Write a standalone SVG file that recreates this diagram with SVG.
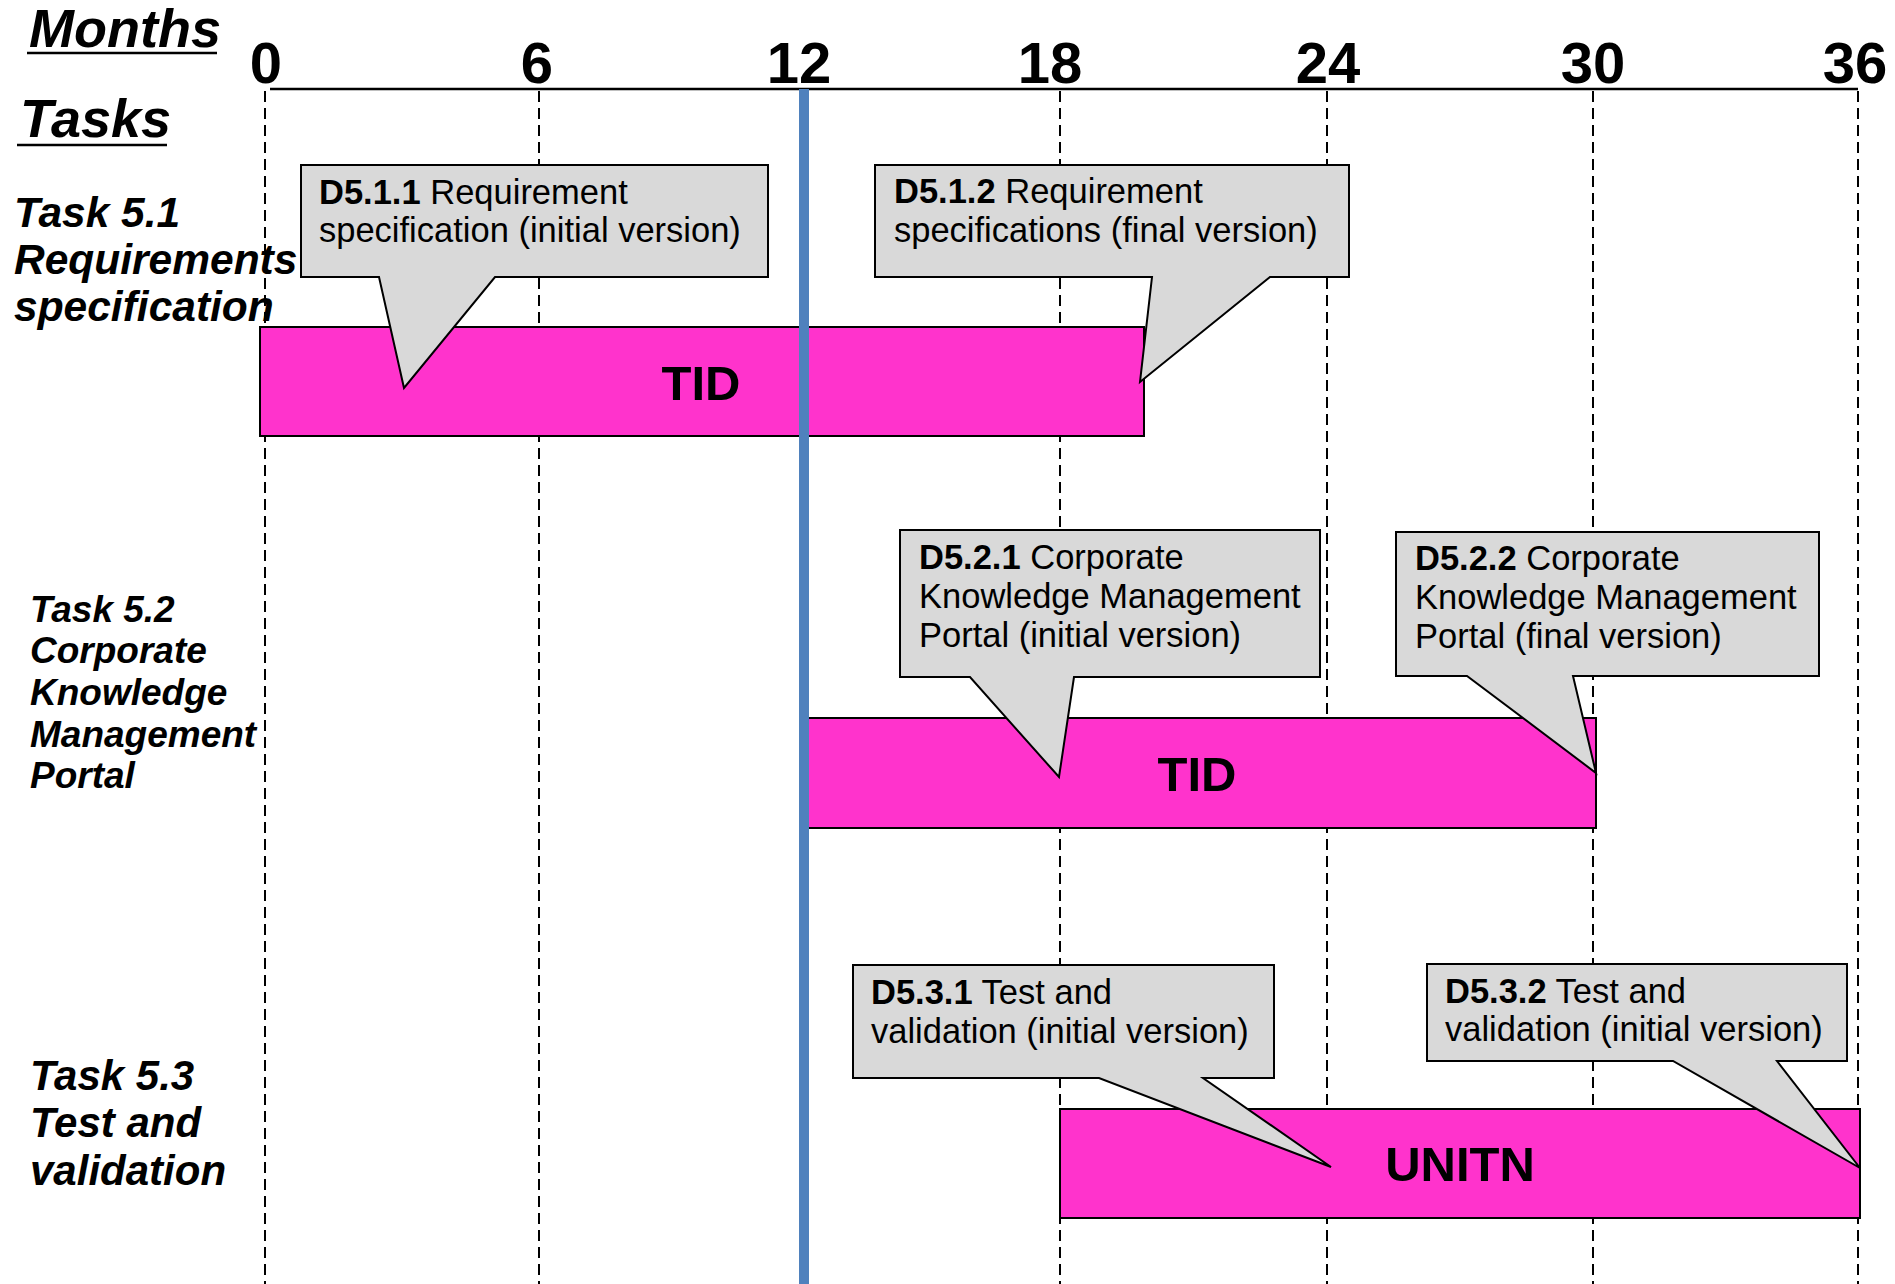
<svg xmlns="http://www.w3.org/2000/svg" width="1895" height="1284" viewBox="0 0 1895 1284">
<style>
.grid{stroke:#000;stroke-width:2;stroke-dasharray:11 6;fill:none}
.axis{stroke:#000;stroke-width:2.5;fill:none}
.num{font-family:"Liberation Sans",Arial,sans-serif;font-weight:bold;font-size:58px;fill:#000;text-anchor:middle}
.head{font-family:"Liberation Sans",Arial,sans-serif;font-weight:bold;font-style:italic;font-size:54px;fill:#000}
.task{font-family:"Liberation Sans",Arial,sans-serif;font-weight:bold;font-style:italic;fill:#000}
.bar{fill:#ff33cc;stroke:#000;stroke-width:2}
.barlbl{font-family:"Liberation Sans",Arial,sans-serif;font-weight:bold;font-size:49px;fill:#000;text-anchor:middle}
.call{fill:#d9d9d9;stroke:#000;stroke-width:2;stroke-linejoin:miter}
.ctext{font-family:"Liberation Sans",Arial,sans-serif;font-size:34.5px;fill:#000}
.b{font-weight:bold}
</style>
<rect width="1895" height="1284" fill="#fff"/>

<g id="grid">
<line class="grid" x1="265" y1="91" x2="265" y2="1284"/>
<line class="grid" x1="539" y1="91" x2="539" y2="1284"/>
<line class="grid" x1="804" y1="91" x2="804" y2="1284"/>
<line class="grid" x1="1060" y1="91" x2="1060" y2="1284"/>
<line class="grid" x1="1327" y1="91" x2="1327" y2="1284"/>
<line class="grid" x1="1593" y1="91" x2="1593" y2="1284"/>
<line class="grid" x1="1858" y1="91" x2="1858" y2="1284"/>
</g>

<g id="axis">
<line class="axis" x1="270" y1="89" x2="1858" y2="89"/>
<text class="num" x="266" y="83">0</text>
<text class="num" x="537" y="83">6</text>
<text class="num" x="799" y="83">12</text>
<text class="num" x="1050" y="83">18</text>
<text class="num" x="1328" y="83">24</text>
<text class="num" x="1593" y="83">30</text>
<text class="num" x="1855" y="83">36</text>
</g>

<g id="headers">
<text class="head" x="29" y="47">Months</text>
<line x1="27" y1="53" x2="217" y2="53" stroke="#000" stroke-width="2.5"/>
<text class="head" x="20" y="137">Tasks</text>
<line x1="17" y1="145" x2="167" y2="145" stroke="#000" stroke-width="2.5"/>
</g>

<g id="task51">
<text class="task" font-size="42.5" x="14" y="227">Task 5.1</text>
<text class="task" font-size="42.5" x="14" y="274">Requirements</text>
<text class="task" font-size="42.5" x="14" y="321">specification</text>
</g>
<g id="task52">
<text class="task" font-size="37" x="30" y="622">Task 5.2</text>
<text class="task" font-size="37" x="30" y="663">Corporate</text>
<text class="task" font-size="37" x="30" y="705">Knowledge</text>
<text class="task" font-size="37" x="30" y="747">Management</text>
<text class="task" font-size="37" x="30" y="788">Portal</text>
</g>
<g id="task53">
<text class="task" font-size="42" x="30" y="1090">Task 5.3</text>
<text class="task" font-size="42" x="30" y="1137">Test and</text>
<text class="task" font-size="42" x="30" y="1185">validation</text>
</g>

<g id="bar51">
<rect class="bar" x="260" y="327" width="884" height="109"/>
<text class="barlbl" x="701" y="400">TID</text>
</g>
<g id="bar52">
<rect class="bar" x="806" y="718" width="790" height="110"/>
<text class="barlbl" x="1197" y="791">TID</text>
</g>
<g id="bar53">
<rect class="bar" x="1060" y="1109" width="800" height="109"/>
<text class="barlbl" x="1460" y="1181">UNITN</text>
</g>

<g id="today">
<line x1="804" y1="89" x2="804" y2="1284" stroke="#4f81bd" stroke-width="10"/>
</g>

<g id="d511">
<path class="call" d="M301,165 H768 V277 H495 L404,388 L379,277 H301 Z"/>
<text class="ctext" x="319" y="204"><tspan class="b">D5.1.1</tspan> Requirement</text>
<text class="ctext" x="319" y="242">specification (initial version)</text>
</g>
<g id="d512">
<path class="call" d="M875,165 H1349 V277 H1270 L1140,382 L1152,277 H875 Z"/>
<text class="ctext" x="894" y="203"><tspan class="b">D5.1.2</tspan> Requirement</text>
<text class="ctext" x="894" y="242">specifications (final version)</text>
</g>
<g id="d521">
<path class="call" d="M900,530 H1320 V677 H1074 L1059,777 L970,677 H900 Z"/>
<text class="ctext" x="919" y="569"><tspan class="b">D5.2.1</tspan> Corporate</text>
<text class="ctext" x="919" y="608">Knowledge Management</text>
<text class="ctext" x="919" y="647">Portal (initial version)</text>
</g>
<g id="d522">
<path class="call" d="M1396,532 H1819 V676 H1573 L1596,773 L1467,676 H1396 Z"/>
<text class="ctext" x="1415" y="570"><tspan class="b">D5.2.2</tspan> Corporate</text>
<text class="ctext" x="1415" y="609">Knowledge Management</text>
<text class="ctext" x="1415" y="648">Portal (final version)</text>
</g>
<g id="d531">
<path class="call" d="M853,965 H1274 V1078 H1203 L1331,1167 L1099,1078 H853 Z"/>
<text class="ctext" x="871" y="1004"><tspan class="b">D5.3.1</tspan> Test and</text>
<text class="ctext" x="871" y="1043">validation (initial version)</text>
</g>
<g id="d532">
<path class="call" d="M1427,964 H1847 V1061 H1777 L1860,1168 L1673,1061 H1427 Z"/>
<text class="ctext" x="1445" y="1003"><tspan class="b">D5.3.2</tspan> Test and</text>
<text class="ctext" x="1445" y="1041">validation (initial version)</text>
</g>
</svg>
